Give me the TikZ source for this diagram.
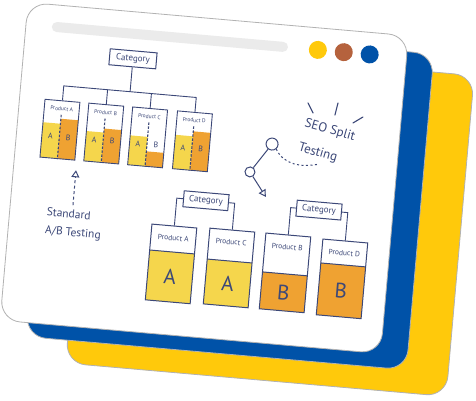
\documentclass[tikz,border=0pt]{standalone}
\usepackage{fontspec}
\setmainfont{PT Sans}
\usepackage{tikz}
\usetikzlibrary{arrows.meta}

\definecolor{ink}{HTML}{3C4878}
\definecolor{ayel}{HTML}{F5D64C}
\definecolor{borg}{HTML}{EFA232}
\definecolor{cardblue}{HTML}{0052A8}
\definecolor{cardyel}{HTML}{FFC90B}
\definecolor{dotbrown}{HTML}{B5623D}
\definecolor{bargray}{HTML}{EBEBEB}

\tikzstyle{card} = [rounded corners=20pt, draw=black!30, line width=0.8pt]
\tikzstyle{catbox} = [draw=ink, line width=1pt, fill=white, text=ink, minimum width=47pt, minimum height=16pt, inner sep=1pt, font=\fontsize{9}{10}\selectfont]
\tikzstyle{minibox} = [draw=ink, line width=0.9pt, minimum width=35pt, minimum height=58pt, inner sep=0pt]
\tikzstyle{bigbox} = [draw=ink, line width=1pt, minimum width=45pt, minimum height=76pt, inner sep=0pt]
\tikzstyle{minilabel} = [text=ink, inner sep=0pt, font=\fontsize{5.5}{6}\selectfont]
\tikzstyle{biglabel} = [text=ink, inner sep=0pt, font=\fontsize{7.5}{8}\selectfont]
\tikzstyle{minilet} = [text=ink, inner sep=0pt, font=\fontsize{8}{9}\selectfont]
\tikzstyle{biglet} = [text=ink, inner sep=0pt, font=\fontsize{21}{23}\selectfont]
\tikzstyle{tree} = [draw=ink, line width=0.9pt]
\tikzstyle{divider} = [draw=ink, line width=1.1pt, dash pattern=on 2.5pt off 1.5pt]
\tikzstyle{note} = [text=ink, inner sep=0pt, font=\fontsize{11.5}{13}\selectfont]
\tikzstyle{seotext} = [text=ink, inner sep=0pt, rotate=-11, font=\fontsize{13}{15}\selectfont]
\tikzstyle{burst} = [ink, line width=1.1pt, line cap=round]
\tikzstyle{arrow} = [ink, line width=1pt, -{Triangle[open,length=7pt,width=8pt]}]

% small product box: name, x, y, label, A height, B height
\newcommand{\minprod}[6]{
  \fill[ayel] (#2-17.5,#3+29) rectangle (#2,#3+29-#5);
  \fill[borg] (#2,#3+29) rectangle (#2+17.5,#3+29-#6);
  \node[minibox] (#1) at (#2,#3) {};
  \node[minilabel] at (#2,#3-21) {#4};
  \draw[divider] (#2,#3-15) -- (#1.south);
  \node[minilet] at (#2-9,#3+7) {A};
  \node[minilet] at (#2+9,#3+7) {B};
}

% big product box: name, x, y, label, fill height, letter, colour
\newcommand{\bigprod}[7]{
  \fill[#7] (#2-22.5,#3+38) rectangle (#2+22.5,#3+38-#5);
  \node[bigbox] (#1) at (#2,#3) {};
  \draw[ink, line width=1pt] (#2-22.5,#3+38-#5) -- (#2+22.5,#3+38-#5);
  \node[biglabel] at (#2,#3-26) {#4};
  \node[biglet] at (#2,#3+38-#5/2) {#6};
}

\begin{document}
\begin{tikzpicture}[x=1pt, y=-1pt]
\useasboundingbox (0,0) rectangle (476,401);

\begin{scope}[rotate=-5, transform shape]
% the three cards
\filldraw[card, fill=cardyel] (97,34) rectangle (479,356);
\filldraw[card, fill=cardblue] (55,16) rectangle (437,333);
\filldraw[card, fill=white] (28,0) rectangle (410,319);

% window bar and buttons
\draw[bargray, line width=10pt, line cap=round] (59,22) -- (286,22);
\fill[cardyel] (321,22) circle (9pt);
\fill[dotbrown] (347,22) circle (9pt);
\fill[cardblue] (373,22) circle (9pt);

% standard A/B test
\node[catbox] (cattop) at (137.6,47) {Category};
\minprod{pA}{71}{124}{Product A}{35}{40}
\minprod{pB}{115}{124}{Product B}{30}{34}
\minprod{pC}{159}{124}{Product C}{29.5}{15}
\minprod{pD}{204}{124}{Product D}{34}{39}

\coordinate (tbar) at (137.6,80);
\draw[tree] (pA.north) -- (pA.north |- tbar) -- (pD.north |- tbar) -- (pD.north);
\draw[tree] (pB.north) -- (pB.north |- tbar);
\draw[tree] (pC.north) -- (pC.north |- tbar);
\draw[tree] (cattop.south) -- (tbar);

\coordinate (abtail) at (90.6,198);
\coordinate (abtip) at (90.5,163);
\draw[arrow, dash pattern=on 3pt off 2.5pt] (abtail) -- (abtip);
\node[note, anchor=base west] (std1) at (65,211) {Standard};
\node[note, anchor=base west] (std2) at (65,229) {A/B Testing};

% SEO split test
\node[seotext] (seo1) at (340,101) {SEO Split};
\node[seotext] (seo2) at (330,125) {Testing};
\draw[burst] (315.8,75.7) -- (321.7,85.3);
\draw[burst] (345.7,73.1) -- (343.7,85.4);
\draw[burst] (371.8,84.9) -- (362.4,91.7);

\node[draw=ink, line width=1pt, circle, minimum size=12pt, inner sep=0pt] (hub) at (283.6,119.8) {};
\node[draw=ink, line width=1pt, circle, minimum size=10pt, inner sep=0pt] (knot) at (264,149.5) {};
\coordinate (knottip) at (282,173);
\coordinate (dotend) at (331,136);
\draw[ink, line width=1pt] (hub) -- (knot);
\draw[arrow] (knot) -- (knottip);
\draw[ink, line width=1pt, dash pattern=on 2pt off 2.5pt] (hub.-45) to[out=-60, in=195] (dotend);

\node[catbox, minimum width=45pt] (catleft) at (222.7,182) {Category};
\node[catbox, minimum width=45pt] (catright) at (336.1,181.5) {Category};
\bigprod{qA}{193.4}{248}{Product A}{50}{A}{ayel}
\bigprod{qC}{251.5}{247}{Product C}{45}{A}{ayel}
\bigprod{qB}{307.7}{247}{Product B}{37}{B}{borg}
\bigprod{qD}{365}{248}{Product D}{52}{B}{borg}

\draw[tree] (catleft.west) -| (qA.north);
\draw[tree] (catleft.east) -| (qC.north);
\draw[tree] (catright.west) -| (qB.north);
\draw[tree] (catright.east) -| (qD.north);
\end{scope}
\end{tikzpicture}
\end{document}
